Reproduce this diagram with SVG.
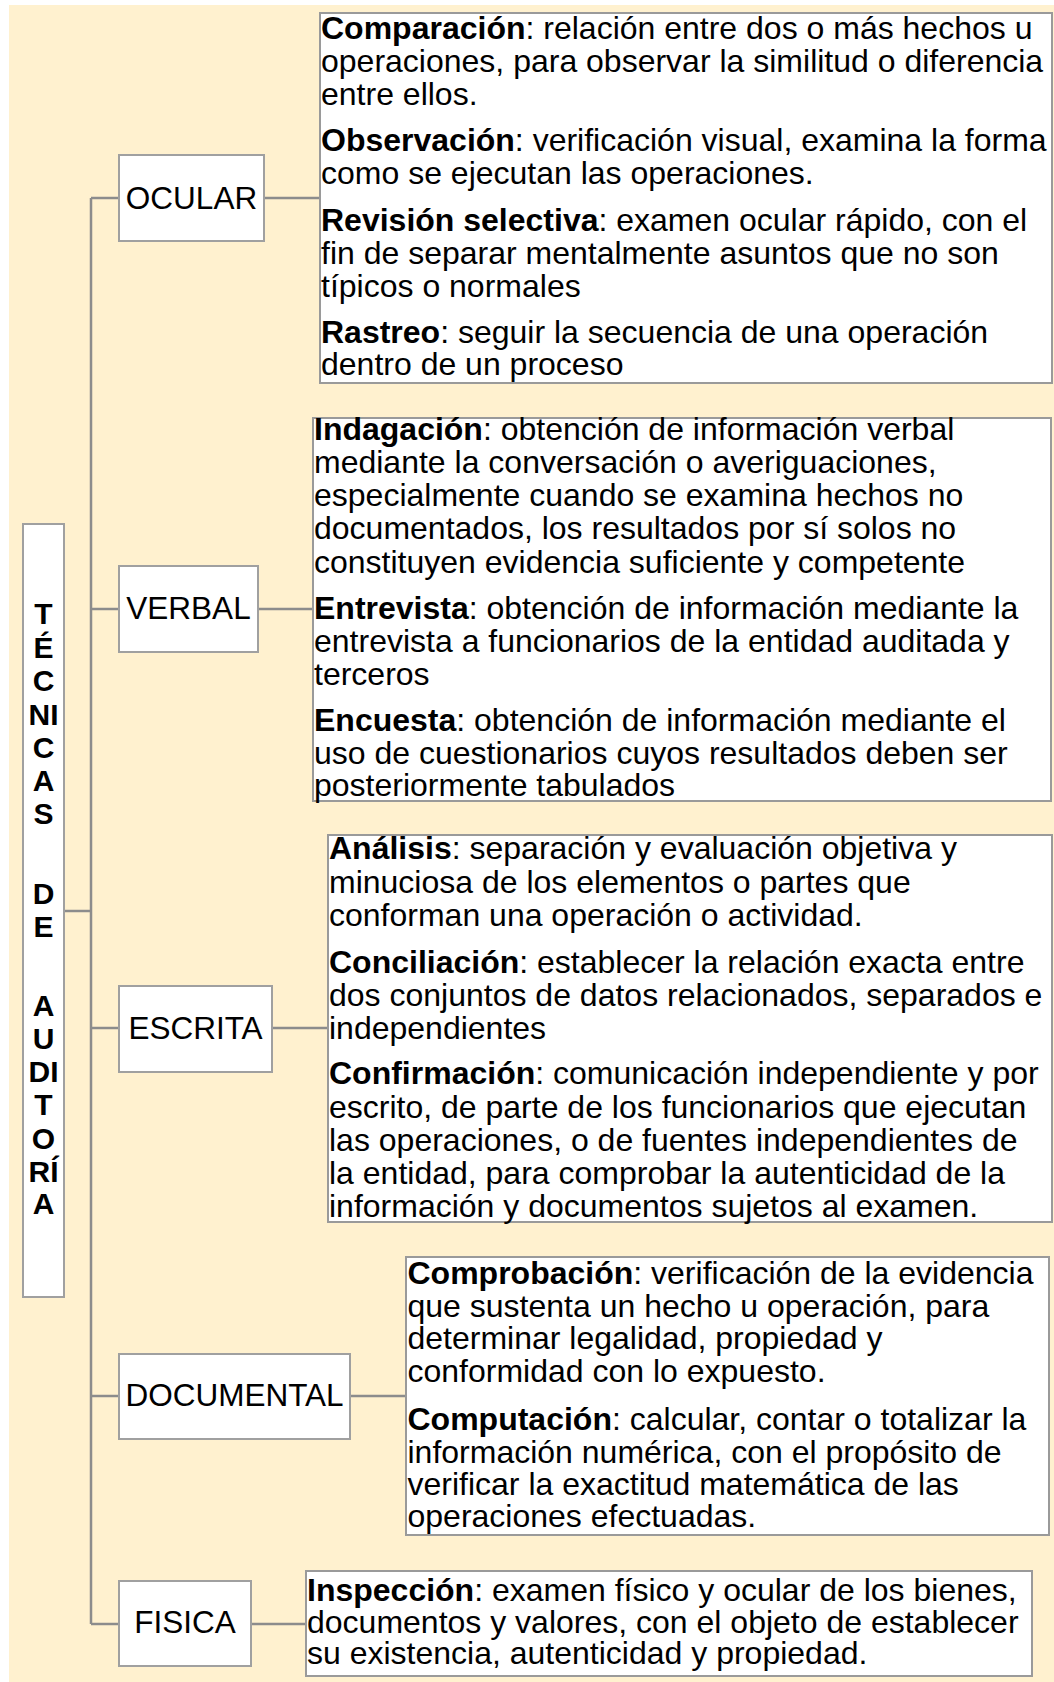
<svg xmlns="http://www.w3.org/2000/svg" width="1054" height="1682" viewBox="0 0 1054 1682">
<style>
.bg{fill:#fff1cf}
.node{fill:#ffffff;stroke:#a0a0a0;stroke-width:2}
.tbox{fill:#ffffff;stroke:#9a9a9a;stroke-width:2}
.conn{stroke:#8c8c8c;stroke-width:2.5;fill:none}
.lbl{font-family:"Liberation Sans",Arial,sans-serif;font-size:31.5px;fill:#000;text-anchor:middle}
.body{font-family:"Liberation Sans",Arial,sans-serif;font-size:32px;fill:#000}
.b{font-weight:bold}
.title{font-family:"Liberation Sans",Arial,sans-serif;font-size:30px;font-weight:bold;fill:#000;text-anchor:middle}
</style>
<rect class="bg" x="9" y="5" width="1045" height="1677"/>

<g id="connectors">
<path class="conn" d="M91 198 V1624"/>
<path class="conn" d="M64 911 H91"/>
<path class="conn" d="M91 198 H119"/>
<path class="conn" d="M91 609 H119"/>
<path class="conn" d="M91 1028 H119"/>
<path class="conn" d="M91 1396 H119"/>
<path class="conn" d="M91 1624 H119"/>
<path class="conn" d="M264 198 H320"/>
<path class="conn" d="M258 609 H313"/>
<path class="conn" d="M272 1028 H328"/>
<path class="conn" d="M350 1396 H406"/>
<path class="conn" d="M251 1624 H306"/>
</g>

<g id="titulo">
<rect class="node" x="23" y="524" width="41" height="773"/>
<text class="title" x="43.5" y="624">T</text>
<text class="title" x="43.5" y="658">É</text>
<text class="title" x="43.5" y="691">C</text>
<text class="title" x="43.5" y="725">NI</text>
<text class="title" x="43.5" y="758">C</text>
<text class="title" x="43.5" y="791">A</text>
<text class="title" x="43.5" y="824">S</text>
<text class="title" x="43.5" y="904">D</text>
<text class="title" x="43.5" y="937">E</text>
<text class="title" x="43.5" y="1016">A</text>
<text class="title" x="43.5" y="1049">U</text>
<text class="title" x="43.5" y="1082">DI</text>
<text class="title" x="43.5" y="1115">T</text>
<text class="title" x="43.5" y="1149">O</text>
<text class="title" x="43.5" y="1182">RÍ</text>
<text class="title" x="43.5" y="1214">A</text>
</g>

<g id="ocular">
<rect class="node" x="119" y="155" width="145" height="86"/>
<text class="lbl" x="191.5" y="209">OCULAR</text>
</g>
<g id="ocular-desc">
<rect class="tbox" x="320" y="13" width="732" height="370"/>
<text class="body" x="321" y="38.5"><tspan class="b">Comparación</tspan>: relación entre dos o más hechos u</text>
<text class="body" x="321" y="71.5">operaciones, para observar la similitud o diferencia</text>
<text class="body" x="321" y="105">entre ellos.</text>
<text class="body" x="321" y="151"><tspan class="b">Observación</tspan>: verificación visual, examina la forma</text>
<text class="body" x="321" y="184">como se ejecutan las operaciones.</text>
<text class="body" x="321" y="231"><tspan class="b">Revisión selectiva</tspan>: examen ocular rápido, con el</text>
<text class="body" x="321" y="264">fin de separar mentalmente asuntos que no son</text>
<text class="body" x="321" y="297">típicos o normales</text>
<text class="body" x="321" y="343"><tspan class="b">Rastreo</tspan>: seguir la secuencia de una operación</text>
<text class="body" x="321" y="375">dentro de un proceso</text>
</g>

<g id="verbal">
<rect class="node" x="119" y="566" width="139" height="86"/>
<text class="lbl" x="188.5" y="619">VERBAL</text>
</g>
<g id="verbal-desc">
<rect class="tbox" x="313" y="418" width="738" height="383"/>
<text class="body" x="314" y="440"><tspan class="b">Indagación</tspan>: obtención de información verbal</text>
<text class="body" x="314" y="473">mediante la conversación o averiguaciones,</text>
<text class="body" x="314" y="506">especialmente cuando se examina hechos no</text>
<text class="body" x="314" y="539">documentados, los resultados por sí solos no</text>
<text class="body" x="314" y="573">constituyen evidencia suficiente y competente</text>
<text class="body" x="314" y="619"><tspan class="b">Entrevista</tspan>: obtención de información mediante la</text>
<text class="body" x="314" y="652">entrevista a funcionarios de la entidad auditada y</text>
<text class="body" x="314" y="685">terceros</text>
<text class="body" x="314" y="731"><tspan class="b">Encuesta</tspan>: obtención de información mediante el</text>
<text class="body" x="314" y="764">uso de cuestionarios cuyos resultados deben ser</text>
<text class="body" x="314" y="796">posteriormente tabulados</text>
</g>

<g id="escrita">
<rect class="node" x="119" y="986" width="153" height="86"/>
<text class="lbl" x="195.5" y="1039">ESCRITA</text>
</g>
<g id="escrita-desc">
<rect class="tbox" x="328" y="835" width="724" height="387"/>
<text class="body" x="329" y="859"><tspan class="b">Análisis</tspan>: separación y evaluación objetiva y</text>
<text class="body" x="329" y="893">minuciosa de los elementos o partes que</text>
<text class="body" x="329" y="926">conforman una operación o actividad.</text>
<text class="body" x="329" y="973"><tspan class="b">Conciliación</tspan>: establecer la relación exacta entre</text>
<text class="body" x="329" y="1006">dos conjuntos de datos relacionados, separados e</text>
<text class="body" x="329" y="1039">independientes</text>
<text class="body" x="329" y="1084"><tspan class="b">Confirmación</tspan>: comunicación independiente y por</text>
<text class="body" x="329" y="1118">escrito, de parte de los funcionarios que ejecutan</text>
<text class="body" x="329" y="1151">las operaciones, o de fuentes independientes de</text>
<text class="body" x="329" y="1184">la entidad, para comprobar la autenticidad de la</text>
<text class="body" x="329" y="1217">información y documentos sujetos al examen.</text>
</g>

<g id="documental">
<rect class="node" x="119" y="1354" width="231" height="85"/>
<text class="lbl" x="234.5" y="1406">DOCUMENTAL</text>
</g>
<g id="documental-desc">
<rect class="tbox" x="406" y="1257" width="643" height="278"/>
<text class="body" x="407.5" y="1284"><tspan class="b">Comprobación</tspan>: verificación de la evidencia</text>
<text class="body" x="407.5" y="1317">que sustenta un hecho u operación, para</text>
<text class="body" x="407.5" y="1349">determinar legalidad, propiedad y</text>
<text class="body" x="407.5" y="1382">conformidad con lo expuesto.</text>
<text class="body" x="407.5" y="1430"><tspan class="b">Computación</tspan>: calcular, contar o totalizar la</text>
<text class="body" x="407.5" y="1463">información numérica, con el propósito de</text>
<text class="body" x="407.5" y="1495">verificar la exactitud matemática de las</text>
<text class="body" x="407.5" y="1527">operaciones efectuadas.</text>
</g>

<g id="fisica">
<rect class="node" x="119" y="1581" width="132" height="85"/>
<text class="lbl" x="185" y="1633">FISICA</text>
</g>
<g id="fisica-desc">
<rect class="tbox" x="306" y="1571" width="726" height="105"/>
<text class="body" x="307" y="1601"><tspan class="b">Inspección</tspan>: examen físico y ocular de los bienes,</text>
<text class="body" x="307" y="1633">documentos y valores, con el objeto de establecer</text>
<text class="body" x="307" y="1664">su existencia, autenticidad y propiedad.</text>
</g>
</svg>
